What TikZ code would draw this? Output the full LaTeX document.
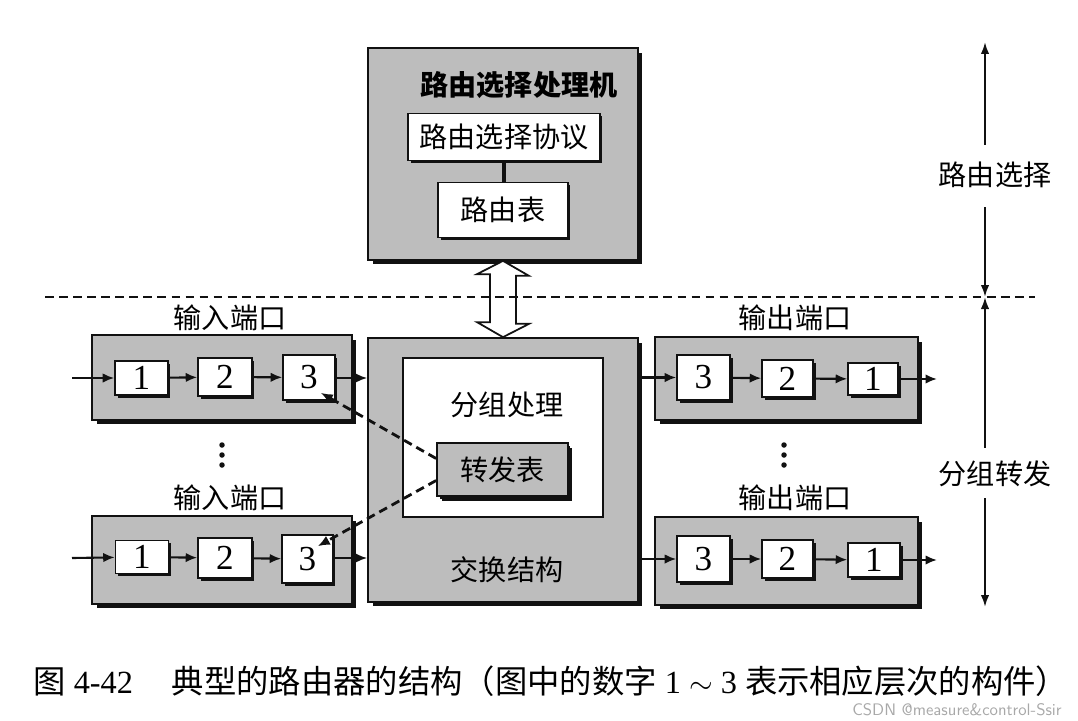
\documentclass[tikz,border=0pt]{standalone}
\usepackage{fontspec}
\setmainfont{Liberation Serif}
\newfontfamily\cjk{Noto Sans CJK SC}
\usepackage{tikz}
\usetikzlibrary{arrows.meta,calc,shadows}
\definecolor{ink}{HTML}{111111}
\definecolor{panelgray}{HTML}{BDBDBD}
\definecolor{wmark}{HTML}{A8A8A8}
\newcommand{\zh}{\cjk\fontsize{16}{19}\selectfont}
\newcommand{\digitfont}{\fontsize{20}{23}\selectfont}
\tikzset{
  panel/.style={draw=ink,line width=1pt,fill=panelgray,inner sep=0pt,
    drop shadow={shadow xshift=0.09cm,shadow yshift=-0.09cm,fill=ink,opacity=1}},
  cell/.style={draw=ink,line width=0.9pt,fill=white,inner sep=0pt,font=\digitfont,
    drop shadow={shadow xshift=0.05cm,shadow yshift=-0.05cm,fill=ink,opacity=1}},
  tablebox/.style={draw=ink,line width=0.9pt,fill=white,inner sep=0pt,font=\zh,
    drop shadow={shadow xshift=0.05cm,shadow yshift=-0.05cm,fill=ink,opacity=1}},
  plainbox/.style={draw=ink,line width=0.9pt,fill=white,inner sep=0pt},
  lbl/.style={font=\zh,inner sep=1pt},
  flow/.style={-{Latex[length=2.3mm,width=1.9mm]},line width=1.2pt,draw=ink},
  dflow/.style={-{Latex[length=2.4mm,width=2mm]},line width=1.6pt,dash pattern=on 5pt off 3pt,draw=ink},
  layer/.style={{Latex[length=2.4mm,width=1.7mm]}-,line width=1.2pt,draw=ink},
  sep/.style={line width=1.1pt,dash pattern=on 5pt off 3pt,draw=ink}
}

\begin{document}
\begin{tikzpicture}[x=0.02cm,y=-0.02cm]
  \useasboundingbox (0,0) rectangle (1078,720);
  % routing processor
  \node[panel, minimum width=5.4cm, minimum height=4.24cm] (rp) at (503,154) {};
  \node[lbl, font=\zh\bfseries] (rptitle) at (519,85) {路由选择处理机};
  \node[tablebox, minimum width=3.84cm, minimum height=0.94cm] (proto) at (504,137) {路由选择协议};
  \node[tablebox, minimum width=2.6cm, minimum height=1.1cm] (rtable) at (503,210) {路由表};
  \draw[ink, line width=2pt] (proto.south) -- (proto.south |- rtable.north);
  % switching fabric
  \node[panel, minimum width=5.4cm, minimum height=5.28cm] (sf) at (503,470) {};
  \node[plainbox, minimum width=4cm, minimum height=3.18cm] (pp) at (503,437.5) {};
  \node[lbl] (pptext) at (507,405) {分组处理};
  \node[panel, font=\zh, minimum width=2.62cm, minimum height=1.06cm,
    drop shadow={shadow xshift=0.05cm,shadow yshift=-0.05cm,fill=ink,opacity=1}] (ft) at (502.5,469.5) {转发表};
  \node[lbl] (sftext) at (507,570) {交换结构};
  % hollow double arrow
  \draw[ink, line width=1pt, fill=white] (rp.south) -- ++(26,15) -- ++(-13,0) -- ++(0,48) -- ++(13,0)
    -- (sf.north) -- ++(-26,-15) -- ++(13,0) -- ++(0,-48) -- ++(-13,0) -- cycle;
  % separator
  \coordinate (sepl) at (45,297);
  \coordinate (sepr) at (1035,297);
  \draw[sep] (sepl) -- (sepr);
  % input ports
  \node[lbl] (inlblA) at (230,318) {输入端口};
  \node[panel, minimum width=5.2cm, minimum height=1.7cm] (inA) at (222,377.5) {};
  \node[cell, minimum width=1.06cm, minimum height=0.68cm] (a1) at (141.5,378) {1};
  \node[cell, minimum width=1.08cm, minimum height=0.76cm] (a2) at (225,377) {2};
  \node[cell, minimum width=1.04cm, minimum height=0.9cm] (a3) at (309,377.5) {3};
  \node[lbl] (inlblB) at (230,498) {输入端口};
  \node[panel, minimum width=5.2cm, minimum height=1.76cm] (inB) at (222,560) {};
  \node[cell, minimum width=1.06cm, minimum height=0.66cm] (b1) at (142,557) {1};
  \node[cell, minimum width=1.08cm, minimum height=0.8cm] (b2) at (225,558) {2};
  \node[cell, minimum width=1.02cm, minimum height=0.96cm] (b3) at (307.5,559) {3};
  \fill[ink] (222,445) circle[radius=0.055cm] (222,455) circle[radius=0.055cm] (222,465) circle[radius=0.055cm];
  % output ports
  \node[lbl] (outlblA) at (795,318) {输出端口};
  \node[panel, minimum width=5.26cm, minimum height=1.66cm] (outA) at (786.5,378.5) {};
  \node[cell, minimum width=1.06cm, minimum height=0.9cm] (c3) at (703.5,377.5) {3};
  \node[cell, minimum width=1.02cm, minimum height=0.74cm] (c2) at (787.5,378.5) {2};
  \node[cell, minimum width=1.0cm, minimum height=0.64cm] (c1) at (873,379) {1};
  \node[lbl] (outlblB) at (795,498) {输出端口};
  \node[panel, minimum width=5.26cm, minimum height=1.76cm] (outB) at (786.5,561) {};
  \node[cell, minimum width=1.06cm, minimum height=0.92cm] (d3) at (703.5,559) {3};
  \node[cell, minimum width=1.02cm, minimum height=0.76cm] (d2) at (787.5,559) {2};
  \node[cell, minimum width=1.04cm, minimum height=0.68cm] (d1) at (874,560) {1};
  \fill[ink] (784,445) circle[radius=0.055cm] (784,455) circle[radius=0.055cm] (784,465) circle[radius=0.055cm];
  % packet flow
  \coordinate (srcA) at (72,378);
  \coordinate (srcB) at (72,558);
  \coordinate (dstA) at (937,379);
  \coordinate (dstB) at (937,560);
  \draw[flow] (srcA) -- (a1);
  \draw[flow] (a1) -- (a2);
  \draw[flow] (a2) -- (a3);
  \draw[flow] (a3.east |- a1) -- (a1 -| sf.west);
  \draw[flow] (srcB) -- (b1);
  \draw[flow] (b1) -- (b2);
  \draw[flow] (b2) -- (b3);
  \draw[flow] (b3.east |- srcB) -- (srcB -| sf.west);
  \draw[flow] (sf.east |- c3) -- (c3);
  \draw[flow] (c3) -- (c2);
  \draw[flow] (c2) -- (c1);
  \draw[flow] (c1) -- (dstA);
  \draw[flow] (sf.east |- d3) -- (d3);
  \draw[flow] (d3) -- (d2);
  \draw[flow] (d2) -- (d1);
  \draw[flow] (d1) -- (dstB);
  % forwarding table lookups
  \draw[dflow] ($(ft.west)+(0,-11)$) -- ($(a3.south east)+(-15,-8)$);
  \draw[dflow] ($(ft.west)+(0,11)$) -- ($(b3.north east)+(-16,12)$);
  % layers
  \node[lbl] (rsel) at (995,175) {路由选择};
  \node[lbl] (pfwd) at (995,474) {分组转发};
  \coordinate (ltop) at (985,42);
  \coordinate (lmid) at (985,297);
  \coordinate (lbot) at (985,607);
  \draw[layer] (ltop) -- ($(ltop |- rsel)+(0,-30)$);
  \draw[layer] (lmid) -- ($(lmid |- rsel)+(0,32)$);
  \draw[layer] (lmid) -- ($(lmid |- pfwd)+(0,-26)$);
  \draw[layer] (lbot) -- ($(lbot |- pfwd)+(0,24)$);
  % caption
  \node[anchor=west, inner sep=0pt, font=\fontsize{18.4}{21}\selectfont] (caption) at (33,681)
    {{\cjk 图}~4-42\hspace{1.2em}{\cjk 典型的路由器的结构（图中的数字}~1~$\sim$~3~{\cjk 表示相应层次的构件）}};
  \node[anchor=east, inner sep=0pt, text=wmark, font=\sffamily\fontsize{9.5}{11}\selectfont] (wm) at (1062,710) {CSDN @measure\&control-Ssir};
\end{tikzpicture}
\end{document}
